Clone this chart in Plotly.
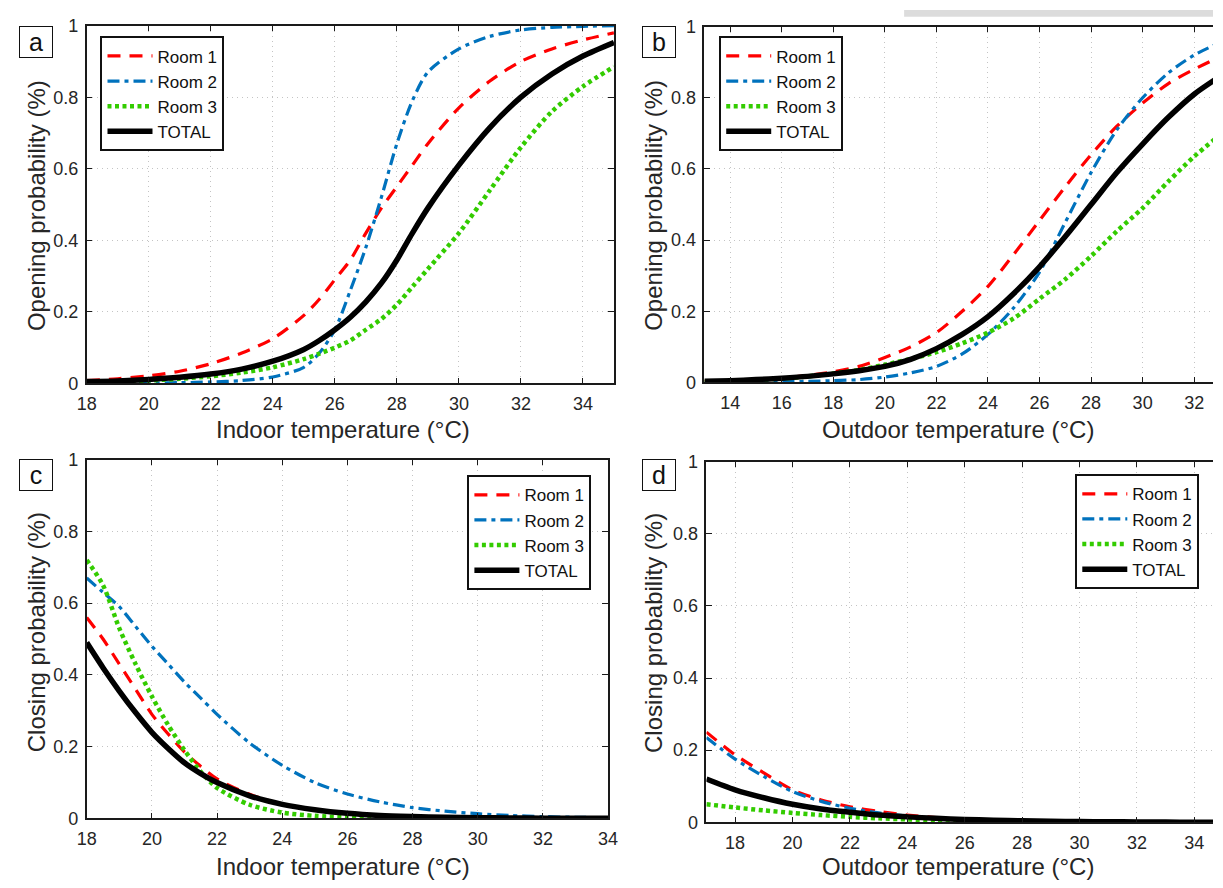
import plotly.graph_objects as go

W, H = 1223, 888
FONT = "Liberation Sans, Arial, Helvetica, sans-serif"

# ---------------- data ----------------
series_names = ["Room 1", "Room 2", "Room 3", "TOTAL"]

# (a) opening vs indoor temperature
temp_a = [18, 19, 20, 21, 22, 23, 24, 25, 25.5, 26, 26.5, 27, 27.5, 28, 28.5, 29, 30, 31, 32, 33, 34, 35]
open_in_room1 = [0.008, 0.013, 0.021, 0.034, 0.055, 0.085, 0.125, 0.19, 0.235, 0.29, 0.345, 0.42, 0.49, 0.55, 0.61, 0.67, 0.77, 0.845, 0.9, 0.935, 0.96, 0.98]
open_in_room2 = [0.0, 0.0005, 0.001, 0.002, 0.004, 0.008, 0.018, 0.045, 0.085, 0.15, 0.26, 0.38, 0.52, 0.67, 0.79, 0.87, 0.935, 0.97, 0.988, 0.995, 0.998, 1.0]
open_in_room3 = [0.003, 0.005, 0.008, 0.013, 0.02, 0.03, 0.045, 0.068, 0.083, 0.1, 0.12, 0.15, 0.18, 0.22, 0.27, 0.32, 0.42, 0.54, 0.66, 0.76, 0.83, 0.885]
open_in_total = [0.005, 0.007, 0.011, 0.017, 0.026, 0.04, 0.062, 0.095, 0.12, 0.15, 0.185, 0.228, 0.28, 0.345, 0.42, 0.49, 0.61, 0.715, 0.8, 0.865, 0.915, 0.953]

# (b) opening vs outdoor temperature
temp_b = [13, 14, 15, 16, 17, 18, 19, 20, 21, 22, 23, 24, 25, 26, 27, 28, 29, 30, 31, 32, 33]
open_out_room1 = [0.003, 0.005, 0.008, 0.012, 0.02, 0.03, 0.045, 0.07, 0.1, 0.14, 0.2, 0.27, 0.36, 0.455, 0.55, 0.64, 0.72, 0.785, 0.84, 0.88, 0.915]
open_out_room2 = [0.0, 0.0005, 0.001, 0.002, 0.003, 0.005, 0.008, 0.015, 0.027, 0.045, 0.08, 0.135, 0.21, 0.31, 0.45, 0.59, 0.71, 0.8, 0.87, 0.92, 0.955]
open_out_room3 = [0.002, 0.004, 0.007, 0.011, 0.017, 0.025, 0.035, 0.05, 0.066, 0.085, 0.11, 0.14, 0.18, 0.235, 0.29, 0.355, 0.425, 0.49, 0.565, 0.635, 0.695]
open_out_total = [0.003, 0.005, 0.008, 0.012, 0.017, 0.024, 0.033, 0.045, 0.065, 0.095, 0.135, 0.185, 0.25, 0.325, 0.41, 0.5, 0.59, 0.67, 0.745, 0.81, 0.86]

# (c) closing vs indoor temperature
temp_c = [18, 18.5, 19, 19.5, 20, 20.5, 21, 21.5, 22, 23, 24, 25, 26, 27, 28, 29, 30, 31, 32, 33, 34]
close_in_room1 = [0.56, 0.5, 0.43, 0.36, 0.29, 0.235, 0.185, 0.145, 0.11, 0.067, 0.04, 0.023, 0.013, 0.007, 0.004, 0.002, 0.001, 0.0005, 0, 0, 0]
close_in_room2 = [0.67, 0.63, 0.59, 0.535, 0.48, 0.43, 0.38, 0.335, 0.29, 0.21, 0.148, 0.1, 0.068, 0.046, 0.03, 0.02, 0.013, 0.008, 0.005, 0.003, 0.002]
close_in_room3 = [0.72, 0.65, 0.53, 0.43, 0.34, 0.26, 0.19, 0.13, 0.085, 0.038, 0.016, 0.007, 0.003, 0.001, 0, 0, 0, 0, 0, 0, 0]
close_in_total = [0.49, 0.42, 0.355, 0.295, 0.24, 0.195, 0.155, 0.125, 0.1, 0.063, 0.039, 0.024, 0.014, 0.008, 0.005, 0.003, 0.002, 0.001, 0.0005, 0, 0]

# (d) closing vs outdoor temperature
temp_d = [17, 18, 19, 20, 21, 22, 23, 24, 25, 26, 27, 28, 29, 30, 31, 32, 33, 34, 35]
close_out_room1 = [0.25, 0.187, 0.137, 0.09, 0.062, 0.043, 0.03, 0.02, 0.013, 0.008, 0.005, 0.003, 0.002, 0.001, 0.0005, 0, 0, 0, 0]
close_out_room2 = [0.235, 0.175, 0.127, 0.085, 0.058, 0.039, 0.026, 0.017, 0.011, 0.007, 0.0045, 0.003, 0.002, 0.001, 0.0005, 0, 0, 0, 0]
close_out_room3 = [0.05, 0.041, 0.033, 0.026, 0.02, 0.015, 0.011, 0.008, 0.005, 0.003, 0.002, 0.001, 0.0005, 0, 0, 0, 0, 0, 0]
close_out_total = [0.12, 0.09, 0.068, 0.05, 0.037, 0.028, 0.02, 0.015, 0.011, 0.008, 0.006, 0.004, 0.003, 0.002, 0.0015, 0.001, 0.0005, 0, 0]

y_tickvals = [0, 0.2, 0.4, 0.6, 0.8, 1]
y_ticktext = ["0", "0.2", "0.4", "0.6", "0.8", "1"]
x_ticks_a = [18, 20, 22, 24, 26, 28, 30, 32, 34]
x_ticks_b = [14, 16, 18, 20, 22, 24, 26, 28, 30, 32]
x_ticks_c = [18, 20, 22, 24, 26, 28, 30, 32, 34]
x_ticks_d = [18, 20, 22, 24, 26, 28, 30, 32, 34]

# ---------------- styles ----------------
styles = [
    dict(color="#ff0000", width=3.2, dash="13px,9px"),
    dict(color="#0072bd", width=3.2, dash="12px,5px,4px,5px"),
    dict(color="#33cc00", width=4.5, dash="4px,3.5px"),
    dict(color="#000000", width=5.5, dash="solid"),
]

panels = [
    dict(x=temp_a, ys=[open_in_room1, open_in_room2, open_in_room3, open_in_total]),
    dict(x=temp_b, ys=[open_out_room1, open_out_room2, open_out_room3, open_out_total]),
    dict(x=temp_c, ys=[close_in_room1, close_in_room2, close_in_room3, close_in_total]),
    dict(x=temp_d, ys=[close_out_room1, close_out_room2, close_out_room3, close_out_total]),
]

fig = go.Figure()
for i, p in enumerate(panels):
    k = "" if i == 0 else str(i + 1)
    for name, y, st in zip(series_names, p["ys"], styles):
        fig.add_trace(go.Scatter(
            x=p["x"], y=y, name=name, mode="lines",
            line=dict(color=st["color"], width=st["width"], dash=st["dash"], shape="spline", smoothing=0.8),
            xaxis="x" + k, yaxis="y" + k, legend="legend" + k,
            hoverinfo="skip",
        ))

def px_x(v):
    return v / W

def px_y(v):
    return 1 - v / H

common = dict(
    showline=True, linecolor="#1a1a1a", linewidth=1.5,
    ticks="inside", ticklen=6, tickwidth=1.2, tickcolor="#1a1a1a",
    showgrid=True, gridcolor="#c4c4c4", griddash="1px,4px", gridwidth=1,
    zeroline=False, tickfont=dict(size=18, color="#262626", family=FONT),
)

layout = dict(
    width=W, height=H, margin=dict(l=0, r=0, t=0, b=0),
    paper_bgcolor="white", plot_bgcolor="white",
    font=dict(family=FONT, color="#262626"),
)

# domains (pixels)
dom = {
    "a": dict(x=(78, 614), y=(16, 382), xr=(18, 35), xt=x_ticks_a),
    "b": dict(x=(706, 1223), y=(17, 381), xr=(13, 32.73), xt=x_ticks_b),
    "c": dict(x=(78, 608), y=(460, 827), xr=(18, 34), xt=x_ticks_c),
    "d": dict(x=(708, 1223), y=(462, 831), xr=(17, 34.65), xt=x_ticks_d),
}
for i, key in enumerate(["a", "b", "c", "d"]):
    k = "" if i == 0 else str(i + 1)
    d = dom[key]
    cut = key in ("b", "d")
    layout["xaxis" + k] = dict(
        common, domain=[px_x(d["x"][0]), px_x(d["x"][1])], range=list(d["xr"]),
        tickvals=d["xt"], mirror="allticks", anchor="y" + k, ticklabelstandoff=3,
    )
    layout["yaxis" + k] = dict(
        common, domain=[px_y(d["y"][1]), px_y(d["y"][0])], range=[0, 1],
        tickvals=y_tickvals, ticktext=y_ticktext,
        mirror=False if cut else "allticks", anchor="x" + k, ticklabelstandoff=3,
    )

legend_pos = {"": (92, 27), "2": (721, 27), "3": (465, 476), "4": (1083, 475)}
for k, (lx, ly) in legend_pos.items():
    layout["legend" + k] = dict(
        x=px_x(lx), y=px_y(ly), xanchor="left", yanchor="top",
        bgcolor="white", bordercolor="#111111", borderwidth=2,
        font=dict(size=17, family=FONT, color="#111111"),
        itemwidth=45, tracegroupgap=0,
    )

fig.update_layout(**layout)

# panel letters
for letter, (lx, ly) in {"a": (9, 16), "b": (643, 16), "c": (9, 459), "d": (642, 459)}.items():
    fig.add_annotation(
        text=letter, x=px_x(lx), y=px_y(ly), xref="paper", yref="paper",
        xanchor="left", yanchor="top", showarrow=False,
        font=dict(size=25, family=FONT, color="#111111"),
        bordercolor="#111111", borderwidth=1, borderpad=0,
        width=32, height=30, bgcolor="white",
    )

# axis titles
xtitles = [("Indoor temperature (°C)", 339, 429), ("Outdoor temperature (°C)", 964, 429),
           ("Indoor temperature (°C)", 339, 876), ("Outdoor temperature (°C)", 964, 876)]
for t, cx, cy in xtitles:
    fig.add_annotation(text=t, x=px_x(cx), y=px_y(cy), xref="paper", yref="paper",
                       xanchor="center", yanchor="middle", showarrow=False,
                       font=dict(size=24, family=FONT, color="#262626"))
ytitles = [("Opening probability (%)", 27, 200), ("Opening probability (%)", 654, 200),
           ("Closing probability (%)", 27, 637), ("Closing probability (%)", 654, 637)]
for t, cx, cy in ytitles:
    fig.add_annotation(text=t, x=px_x(cx), y=px_y(cy), xref="paper", yref="paper",
                       xanchor="center", yanchor="middle", showarrow=False, textangle=-90,
                       font=dict(size=24, family=FONT, color="#262626"))

# light grey strip at top right
fig.add_shape(type="rect", xref="paper", yref="paper", x0=px_x(909), x1=1, y0=px_y(7), y1=1,
              fillcolor="#dcdcdc", line=dict(width=0), layer="below")

fig.write_html(
    "out.html",
    config={"displayModeBar": False},
    post_script="document.body.style.margin='0';document.body.style.overflow='hidden';",
)
